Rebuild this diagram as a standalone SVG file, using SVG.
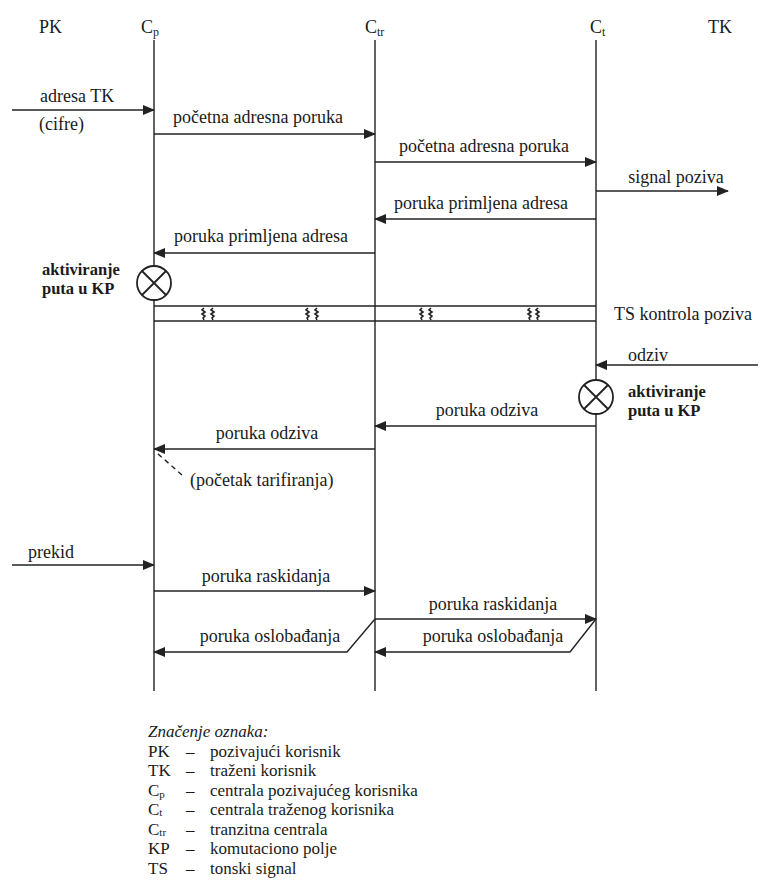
<svg xmlns="http://www.w3.org/2000/svg" width="771" height="891" viewBox="0 0 771 891" font-family="'Liberation Serif', 'Times New Roman', 'DejaVu Serif', serif">
  <defs>
    <marker id="arrow" viewBox="0 0 12 10" refX="11" refY="5" markerWidth="12" markerHeight="10" markerUnits="userSpaceOnUse" orient="auto">
      <path d="M0,0 L12,5 L0,10 Z" fill="#222"/>
    </marker>
    <style>
      .t { font-family: "Liberation Serif", "Times New Roman", serif; font-size: 18px; fill: #1a1a1a; }
      .lg { font-size: 17px; }
      .b { font-weight: bold; font-size: 16.5px; }
      .it { font-style: italic; }
      .mid { text-anchor: middle; }
      .sub { font-size: 12px; }
      .lsub { font-size: 11px; }
      .life { stroke: #222; stroke-width: 1.4; fill: none; }
      .msg { stroke: #222; stroke-width: 1.4; fill: none; marker-end: url(#arrow); }
      .sq { stroke: #222; stroke-width: 1.6; fill: none; }
      .node { fill: #fff; stroke: #222; stroke-width: 1.8; }
    </style>
  </defs>
  <rect width="771" height="891" fill="#fff"/>

  <!-- column headers -->
  <g id="hdr-pk"><text class="t" x="39" y="33">PK</text></g>
  <g id="hdr-cp"><text class="t" x="141" y="33">C<tspan class="sub" dy="3">p</tspan></text></g>
  <g id="hdr-ctr"><text class="t" x="365" y="33">C<tspan class="sub" dy="3">tr</tspan></text></g>
  <g id="hdr-ct"><text class="t" x="590" y="33">C<tspan class="sub" dy="3">t</tspan></text></g>
  <g id="hdr-tk"><text class="t" x="708" y="33">TK</text></g>

  <!-- lifelines -->
  <g id="lifelines">
    <line class="life" x1="154" y1="40" x2="154" y2="691"/>
    <line class="life" x1="375" y1="40" x2="375" y2="691"/>
    <line class="life" x1="596" y1="40" x2="596" y2="691"/>
  </g>

  <!-- switching nodes (path activation) -->
  <g id="node-kp-cp">
    <circle class="node" cx="154" cy="283" r="17"/>
    <path d="M142,271 L166,295 M166,271 L142,295" stroke="#222" stroke-width="1.8"/>
    <text class="t b" x="42" y="275">aktiviranje</text>
    <text class="t b" x="42" y="294">puta u KP</text>
  </g>
  <g id="node-kp-ct">
    <circle class="node" cx="596" cy="397" r="17"/>
    <path d="M584,385 L608,409 M608,385 L584,409" stroke="#222" stroke-width="1.8"/>
    <text class="t b" x="628" y="397">aktiviranje</text>
    <text class="t b" x="628" y="416">puta u KP</text>
  </g>

  <!-- tone signal call control band -->
  <g id="ts-band">
    <line class="life" x1="154" y1="306" x2="596" y2="306"/>
    <line class="life" x1="154" y1="321" x2="596" y2="321"/>
    <g class="sq">
      <path d="M204,308 l-2,2 l3,2 l-3,2 l3,2 l-2,2 l1,2 M213,308 l-2,2 l3,2 l-3,2 l3,2 l-2,2 l1,2"/>
      <path d="M308,308 l-2,2 l3,2 l-3,2 l3,2 l-2,2 l1,2 M317,308 l-2,2 l3,2 l-3,2 l3,2 l-2,2 l1,2"/>
      <path d="M422,308 l-2,2 l3,2 l-3,2 l3,2 l-2,2 l1,2 M431,308 l-2,2 l3,2 l-3,2 l3,2 l-2,2 l1,2"/>
      <path d="M530,308 l-2,2 l3,2 l-3,2 l3,2 l-2,2 l1,2 M538,308 l-2,2 l3,2 l-3,2 l3,2 l-2,2 l1,2"/>
    </g>
    <text class="t" x="614" y="320">TS kontrola poziva</text>
  </g>

  <!-- messages -->
  <g id="connectors">
    <line class="msg" x1="12" y1="110" x2="154" y2="110"/>
    <line class="msg" x1="154" y1="134" x2="375" y2="134"/>
    <line class="msg" x1="375" y1="162" x2="596" y2="162"/>
    <line class="msg" x1="596" y1="191" x2="728" y2="191"/>
    <line class="msg" x1="596" y1="219" x2="375" y2="219"/>
    <line class="msg" x1="375" y1="253" x2="154" y2="253"/>
    <line class="msg" x1="758" y1="365" x2="596" y2="365"/>
    <line class="msg" x1="596" y1="426" x2="375" y2="426"/>
    <line class="msg" x1="375" y1="449" x2="154" y2="449"/>
    <line x1="182" y1="475" x2="157" y2="453" stroke="#222" stroke-width="1.4" stroke-dasharray="5,4"/>
    <line class="msg" x1="12" y1="565" x2="154" y2="565"/>
    <line class="msg" x1="154" y1="591" x2="375" y2="591"/>
    <line class="msg" x1="375" y1="619" x2="596" y2="619"/>
    <polyline class="msg" points="596,619 570,652 375,652"/>
    <polyline class="msg" points="375,619 347,652 154,652"/>
  </g>

  <!-- message labels -->
  <g id="labels">
    <text class="t" x="40" y="102">adresa TK</text>
    <text class="t" x="39" y="130">(cifre)</text>
    <text class="t mid" x="258" y="123">početna adresna poruka</text>
    <text class="t mid" x="484" y="152">početna adresna poruka</text>
    <text class="t mid" x="676" y="183">signal poziva</text>
    <text class="t mid" x="481" y="209">poruka primljena adresa</text>
    <text class="t mid" x="261" y="242">poruka primljena adresa</text>
    <text class="t" x="628" y="361">odziv</text>
    <text class="t mid" x="487" y="416">poruka odziva</text>
    <text class="t mid" x="267" y="439">poruka odziva</text>
    <text class="t" x="190" y="486">(početak tarifiranja)</text>
    <text class="t" x="28" y="558">prekid</text>
    <text class="t mid" x="266" y="582">poruka raskidanja</text>
    <text class="t mid" x="493" y="610">poruka raskidanja</text>
    <text class="t mid" x="493" y="642">poruka oslobađanja</text>
    <text class="t mid" x="270" y="642">poruka oslobađanja</text>
  </g>

  <!-- legend -->
  <g id="legend">
    <text class="t lg it" x="148" y="737">Značenje oznaka:</text>
    <text class="t lg" x="148" y="757">PK</text><text class="t lg" x="186" y="757">–</text><text class="t lg" x="210" y="757">pozivajući korisnik</text>
    <text class="t lg" x="148" y="776">TK</text><text class="t lg" x="186" y="776">–</text><text class="t lg" x="210" y="776">traženi korisnik</text>
    <text class="t lg" x="148" y="796">C<tspan class="lsub" dy="2">p</tspan></text><text class="t lg" x="186" y="796">–</text><text class="t lg" x="210" y="796">centrala pozivajućeg korisnika</text>
    <text class="t lg" x="148" y="815">C<tspan class="lsub" dy="1">t</tspan></text><text class="t lg" x="186" y="815">–</text><text class="t lg" x="210" y="815">centrala traženog korisnika</text>
    <text class="t lg" x="148" y="835">C<tspan class="lsub" dy="1">tr</tspan></text><text class="t lg" x="186" y="835">–</text><text class="t lg" x="210" y="835">tranzitna centrala</text>
    <text class="t lg" x="148" y="854">KP</text><text class="t lg" x="186" y="854">–</text><text class="t lg" x="210" y="854">komutaciono polje</text>
    <text class="t lg" x="148" y="874">TS</text><text class="t lg" x="186" y="874">–</text><text class="t lg" x="210" y="874">tonski signal</text>
  </g>
</svg>
